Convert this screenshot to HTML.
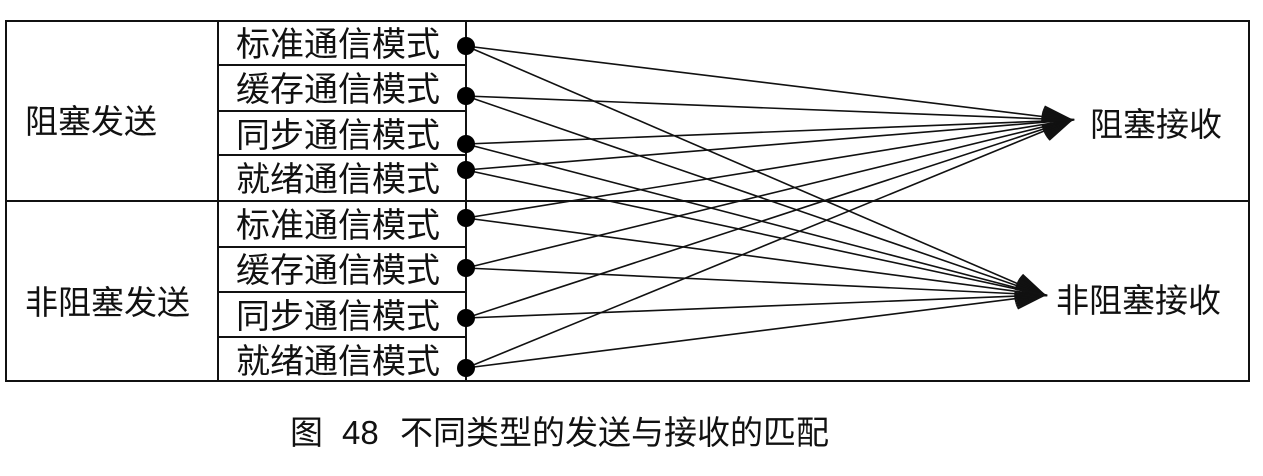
<!DOCTYPE html>
<html><head><meta charset="utf-8"><style>
body{margin:0;background:#fff;width:1263px;height:471px;overflow:hidden}
text{font-family:"Liberation Sans","Noto Sans CJK SC",sans-serif;fill:#111}
</style></head><body>
<svg width="1263" height="471" viewBox="0 0 1263 471">
<g stroke="#111" stroke-width="2" fill="none">
<rect x="6" y="21" width="1243" height="360"/>
<line x1="6" y1="201" x2="1249" y2="201"/>
<line x1="218" y1="21" x2="218" y2="381"/>
<line x1="466" y1="21" x2="466" y2="381"/>
<line x1="218" y1="65" x2="466" y2="65"/>
<line x1="218" y1="111" x2="466" y2="111"/>
<line x1="218" y1="155" x2="466" y2="155"/>
<line x1="218" y1="247" x2="466" y2="247"/>
<line x1="218" y1="292" x2="466" y2="292"/>
<line x1="218" y1="337" x2="466" y2="337"/>
</g>
<g id="ln" stroke="#111" stroke-width="1.6" fill="none"></g>
<g id="dots" fill="#000"></g>
<g font-size="34">
<text x="236" y="56">标准通信模式</text>
<text x="236" y="101">缓存通信模式</text>
<text x="236" y="147">同步通信模式</text>
<text x="236" y="191">就绪通信模式</text>
<text x="236" y="237">标准通信模式</text>
<text x="236" y="282">缓存通信模式</text>
<text x="236" y="328">同步通信模式</text>
<text x="236" y="373">就绪通信模式</text>
</g>
<g font-size="33">
<text x="25" y="133">阻塞发送</text>
<text x="25" y="314">非阻塞发送</text>
<text x="1090" y="136">阻塞接收</text>
<text x="1056" y="312">非阻塞接收</text>
</g>
<text x="290" y="444" font-size="33"><tspan>图</tspan><tspan x="342">48</tspan><tspan x="400">不同类型的发送与接收的匹配</tspan></text>
</svg>
<script>
var ys=[46,96,144,170,218,268,318,368],T=[[1071,120],[1044,295]];
var ln=document.getElementById('ln'),d=document.getElementById('dots'),s='';
ys.forEach(function(y){T.forEach(function(t){
 var dx=t[0]-466,dy=t[1]-y,L=Math.hypot(dx,dy),ux=dx/L,uy=dy/L,a=28,w=10;
 var bx=t[0]-ux*a,by=t[1]-uy*a;
 s+='<line x1="466" y1="'+y+'" x2="'+t[0]+'" y2="'+t[1]+'"/>';
 s+='<polyline stroke-width="2.5" points="'+(bx-uy*w)+','+(by+ux*w)+' '+t[0]+','+t[1]+' '+(bx+uy*w)+','+(by-ux*w)+'"/>';
});});
ln.innerHTML=s;
d.innerHTML=ys.map(function(y){return '<circle cx="466" cy="'+y+'" r="9"/>'}).join('');
</script>
</body></html>
